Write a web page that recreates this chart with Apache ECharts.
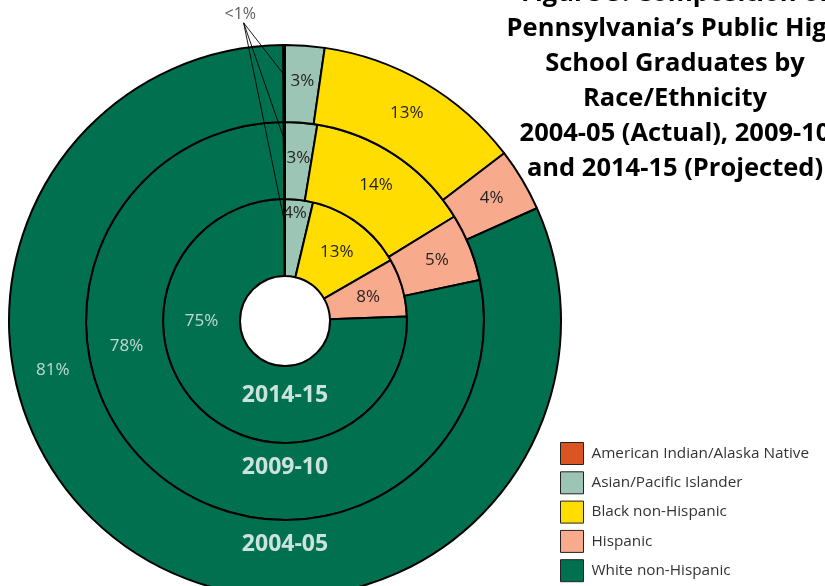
<!DOCTYPE html>
<html>
<head>
<meta charset="utf-8">
<script src="https://cdn.jsdelivr.net/npm/echarts@6/dist/echarts.min.js"></script>
<style>
html,body{margin:0;padding:0;background:#fff;}
#chart{width:825px;height:586px;}
</style>
</head>
<body>
<div id="chart"></div>
<script>
// Categories in clockwise order starting at 12 o'clock
const categories = ['Asian/Pacific Islander', 'Black non-Hispanic', 'Hispanic', 'White non-Hispanic', 'American Indian/Alaska Native'];
const legendOrder = ['American Indian/Alaska Native', 'Asian/Pacific Islander', 'Black non-Hispanic', 'Hispanic', 'White non-Hispanic'];
const years = ['2014-15', '2009-10', '2004-05'];
// shares (percent) as drawn
const share2014 = [3.7, 13.0, 7.7, 75.5, 0.1];
const share2009 = [2.6, 13.6, 5.5, 78.2, 0.1];
const share2004 = [2.3, 12.3, 3.7, 81.6, 0.1];
// printed labels
const label2014 = ['4%', '13%', '8%', '75%', '<1%'];
const label2009 = ['3%', '14%', '5%', '78%', '<1%'];
const label2004 = ['3%', '13%', '4%', '81%', '<1%'];

const colors = {
  'American Indian/Alaska Native': '#DA5521',
  'Asian/Pacific Islander': '#9DC5B6',
  'Black non-Hispanic': '#FFDD00',
  'Hispanic': '#F8AA8C',
  'White non-Hispanic': '#00704F'
};

const center = [285, 321];
const ringRadii = [[45, 122], [122, 199], [199, 276]];
const polarRadius = 330; // radius axis spans 0..330 px so notes outside the rings fit
const whiteLabelAngle = [270, 261, 258];
const yearLabelRadius = [74, 146, 223];
const leaderEndRadius = [98, 181, 246];
const smallLabelPos = [310, 351.7]; // radius, angle of the "<1%" note

const rings = [
  {year: years[0], shares: share2014, labels: label2014},
  {year: years[1], shares: share2009, labels: label2009},
  {year: years[2], shares: share2004, labels: label2004}
];

const series = rings.map((ring, ri) => ({
  type: 'pie',
  name: ring.year,
  center: center,
  radius: ringRadii[ri],
  startAngle: 90,
  clockwise: true,
  avoidLabelOverlap: false,
  silent: true,
  animation: false,
  itemStyle: {borderColor: '#000', borderWidth: 2},
  label: {
    show: true, position: 'inside', formatter: (p) => ring.labels[p.dataIndex],
    fontFamily: 'Open Sans', fontSize: 17, color: '#231F20'
  },
  labelLine: {show: false},
  labelLayout: function (p) {
    if (ri === 0 && p.dataIndex === 0) return {dy: -22};
    return {};
  },
  data: categories.map((c, i) => {
    const d = {name: c, value: ring.shares[i], itemStyle: {color: colors[c]}};
    if (c === 'White non-Hispanic' || c === 'American Indian/Alaska Native') d.label = {show: false};
    return d;
  })
}));

// White share labels and year labels placed through a polar coordinate system
series.push({
  type: 'scatter', coordinateSystem: 'polar', symbolSize: 0, silent: true, animation: false, clip: false,
  label: {show: true, position: 'inside', formatter: '{b}', color: '#EEF4F1', fontFamily: 'Open Sans', fontSize: 17},
  data: rings.map((ring, ri) => ({
    name: ring.labels[3],
    value: [(ringRadii[ri][0] + ringRadii[ri][1]) / 2, whiteLabelAngle[ri]]
  }))
});
series.push({
  type: 'scatter', coordinateSystem: 'polar', symbolSize: 0, silent: true, animation: false, clip: false,
  label: {show: true, position: 'inside', formatter: '{b}', color: '#FFFFFF', fontFamily: 'Open Sans', fontWeight: 'bold', fontSize: 23},
  data: rings.map((ring, ri) => ({name: ring.year, value: [yearLabelRadius[ri], 180]}))
});
// "<1%" note for American Indian/Alaska Native with leader lines into each ring
series.push({
  type: 'scatter', coordinateSystem: 'polar', symbolSize: 0, silent: true, animation: false, clip: false,
  label: {show: true, position: 'inside', formatter: '{b}', color: '#333', fontFamily: 'Open Sans', fontSize: 16},
  data: [{name: label2004[4], value: smallLabelPos}]
});
rings.forEach((ring, ri) => {
  const aiAngle = 360 - ring.shares[4] * 3.6 / 2;
  series.push({
    type: 'line', coordinateSystem: 'polar', silent: true, animation: false, clip: false,
    symbol: 'none', lineStyle: {color: '#000', width: 0.9},
    data: [[smallLabelPos[0] - 9, smallLabelPos[1] + 0.4], [leaderEndRadius[ri], aiAngle]]
  });
});

const chart = echarts.init(document.getElementById('chart'), null, {renderer: 'canvas'});
chart.setOption({
  backgroundColor: '#fff',
  animation: false,
  title: {
    text: 'Figure 5: Composition of\nPennsylvania\u2019s Public High\nSchool Graduates by\nRace/Ethnicity\n2004-05 (Actual), 2009-10\nand 2014-15 (Projected)',
    left: 675, top: -24, textAlign: 'center', padding: 0,
    textStyle: {fontFamily: 'Open Sans', fontWeight: 'bold', fontSize: 25.5, lineHeight: 35, color: '#000'}
  },
  legend: {
    data: legendOrder,
    orient: 'vertical', left: 560, top: 442, padding: 0,
    itemWidth: 23, itemHeight: 22, itemGap: 6.3, icon: 'rect',
    itemStyle: {borderColor: '#222', borderWidth: 1},
    selectedMode: false,
    textStyle: {fontFamily: 'Open Sans', fontSize: 15.3, color: '#333', padding: [0, 0, 0, 3]}
  },
  polar: {center: center, radius: polarRadius},
  angleAxis: {type: 'value', min: 0, max: 360, startAngle: 90, clockwise: true, show: false,
    axisLine: {show: false}, splitLine: {show: false}, axisLabel: {show: false}, axisTick: {show: false}},
  radiusAxis: {type: 'value', min: 0, max: polarRadius, show: false,
    axisLine: {show: false}, splitLine: {show: false}, axisLabel: {show: false}, axisTick: {show: false}},
  series: series
});
</script>
</body>
</html>
